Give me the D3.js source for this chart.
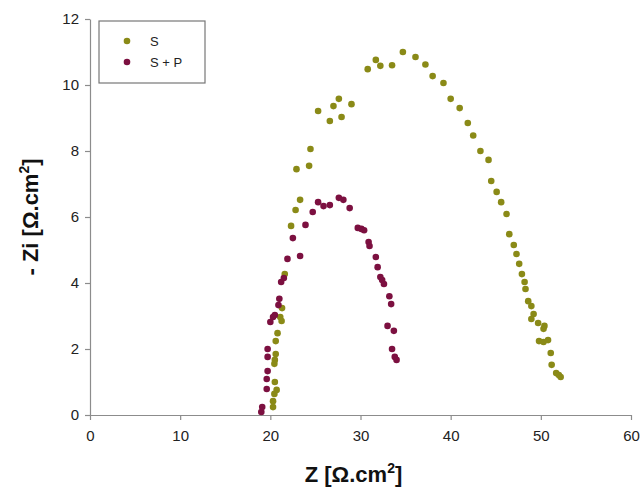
<!DOCTYPE html>
<html>
<head>
<meta charset="utf-8">
<script src="https://cdn.jsdelivr.net/npm/d3@7"></script>
<style>
  body { margin: 0; background: #fff; }
  svg { display: block; font-family: "Liberation Sans", Arial, sans-serif; }
</style>
</head>
<body>
<div id="chart"></div>
<script>
// Nyquist data: [Z, -Zi] in ohm.cm2
const seriesS = [
  [34.7, 11.0], [36.1, 10.85], [37.2, 10.62], [38.0, 10.27], [39.2, 10.06],
  [40.0, 9.58], [41.0, 9.3], [41.9, 8.85], [42.5, 8.47], [43.3, 8.0],
  [44.2, 7.73], [44.5, 7.09], [45.1, 6.76], [45.6, 6.45], [46.2, 6.09],
  [46.5, 5.48], [47.0, 5.15], [47.3, 4.88], [47.6, 4.58], [47.9, 4.27],
  [48.2, 4.03], [48.3, 3.82], [48.6, 3.45], [48.95, 3.3], [49.2, 3.06],
  [48.95, 2.91], [49.7, 2.79], [50.4, 2.7], [50.3, 2.61], [49.8, 2.24],
  [50.3, 2.21], [50.8, 2.27], [51.1, 1.88], [51.2, 1.52], [51.7, 1.27],
  [52.0, 1.21], [52.2, 1.15],
  [33.5, 10.6], [31.7, 10.76], [32.2, 10.58], [30.8, 10.48],
  [29.0, 9.42], [27.6, 9.58], [27.0, 9.36], [27.9, 9.03], [26.6, 8.91],
  [25.3, 9.21], [24.45, 8.06], [24.3, 7.55], [22.9, 7.45], [23.3, 6.52],
  [22.8, 6.21], [22.3, 5.73], [21.6, 4.27], [21.3, 3.24], [21.1, 2.97],
  [21.25, 2.85], [20.8, 2.48], [20.6, 2.24], [20.6, 1.85], [20.5, 1.67],
  [20.45, 1.55], [20.5, 1.0], [20.7, 0.76], [20.45, 0.64], [20.3, 0.42],
  [20.3, 0.24]
];

const seriesSP = [
  [19.0, 0.09], [19.1, 0.24], [19.6, 0.79], [19.6, 1.09], [19.7, 1.33],
  [19.7, 1.76], [19.7, 2.0], [20.0, 2.82], [20.3, 2.97], [20.5, 3.03],
  [20.9, 3.33], [21.0, 3.52], [21.2, 4.03], [21.5, 4.15], [21.9, 4.73],
  [23.3, 4.82], [22.5, 5.36], [23.9, 5.76], [24.7, 6.15], [25.3, 6.45],
  [25.9, 6.33], [26.6, 6.36], [27.6, 6.58], [28.1, 6.52], [28.8, 6.27],
  [29.7, 5.67], [30.1, 5.64], [30.4, 5.6], [30.9, 5.24], [31.0, 5.12],
  [31.7, 4.79], [31.9, 4.48], [32.2, 4.18], [32.4, 4.09], [32.6, 3.97],
  [33.2, 3.6], [33.4, 3.36], [33.0, 2.7], [33.7, 2.55], [33.5, 2.0],
  [33.8, 1.76], [34.0, 1.67]
];

const seriesNames = ["S", "S + P"];
const seriesColors = ["#8a8a17", "#7c1040"];
const xTicks = [0, 10, 20, 30, 40, 50, 60];
const yTicks = [0, 2, 4, 6, 8, 10, 12];

const width = 644, height = 495;
const margin = {top: 19, right: 13, bottom: 80, left: 90};
const innerW = width - margin.left - margin.right;
const innerH = height - margin.top - margin.bottom;

const svg = d3.select("#chart").append("svg")
    .attr("width", width)
    .attr("height", height);

const g = svg.append("g")
    .attr("transform", `translate(${margin.left},${margin.top})`);

const x = d3.scaleLinear().domain([0, 60]).range([0, innerW]);
const y = d3.scaleLinear().domain([0, 12]).range([innerH, 0]);

// axes
const xAxis = g.append("g")
    .attr("transform", `translate(0,${innerH})`)
    .call(d3.axisBottom(x).tickValues(xTicks).tickSize(5).tickPadding(10).tickSizeOuter(0));
const yAxis = g.append("g")
    .call(d3.axisLeft(y).tickValues(yTicks).tickSize(5).tickPadding(6).tickSizeOuter(0));

[xAxis, yAxis].forEach(ax => {
    ax.select(".domain").attr("stroke", "#8c8c8c").attr("stroke-width", 1.2);
    ax.selectAll(".tick line").attr("stroke", "#8c8c8c").attr("stroke-width", 1.2);
    ax.selectAll(".tick text")
        .attr("fill", "#222")
        .style("font-size", "15px")
        .style("font-family", "Liberation Sans, Arial, sans-serif");
});

// points
[seriesS, seriesSP].forEach((series, i) => {
    g.append("g").selectAll("circle")
        .data(series)
        .enter()
        .append("circle")
        .attr("cx", d => x(d[0]))
        .attr("cy", d => y(d[1]))
        .attr("r", 3.3)
        .attr("fill", seriesColors[i]);
});

// axis titles
const xTitle = svg.append("text")
    .attr("x", margin.left + innerW / 2 - 7)
    .attr("y", 482)
    .attr("text-anchor", "middle")
    .style("font-size", "22px")
    .style("font-weight", "bold")
    .attr("fill", "#111");
xTitle.append("tspan").text("Z [Ω.cm");
xTitle.append("tspan").attr("dy", -9).style("font-size", "14px").text("2");
xTitle.append("tspan").attr("dy", 9).text("]");

const yTitle = svg.append("text")
    .attr("transform", `translate(38,${margin.top + innerH / 2}) rotate(-90)`)
    .attr("text-anchor", "middle")
    .style("font-size", "22px")
    .style("font-weight", "bold")
    .attr("fill", "#111");
yTitle.append("tspan").text("- Zi [Ω.cm");
yTitle.append("tspan").attr("dy", -9).style("font-size", "14px").text("2");
yTitle.append("tspan").attr("dy", 9).text("]");

// legend
const legend = svg.append("g").attr("transform", "translate(99,21)");
legend.append("rect")
    .attr("width", 106)
    .attr("height", 62)
    .attr("fill", "#fff")
    .attr("stroke", "#777")
    .attr("stroke-width", 1.2);

seriesNames.forEach((name, i) => {
    const row = legend.append("g").attr("transform", `translate(0,${20 + i * 21})`);
    row.append("circle")
        .attr("cx", 28)
        .attr("cy", 0)
        .attr("r", 3.3)
        .attr("fill", seriesColors[i]);
    row.append("text")
        .attr("x", 51)
        .attr("y", 5)
        .style("font-size", "13px")
        .attr("fill", "#222")
        .text(name);
});
</script>
</body>
</html>
